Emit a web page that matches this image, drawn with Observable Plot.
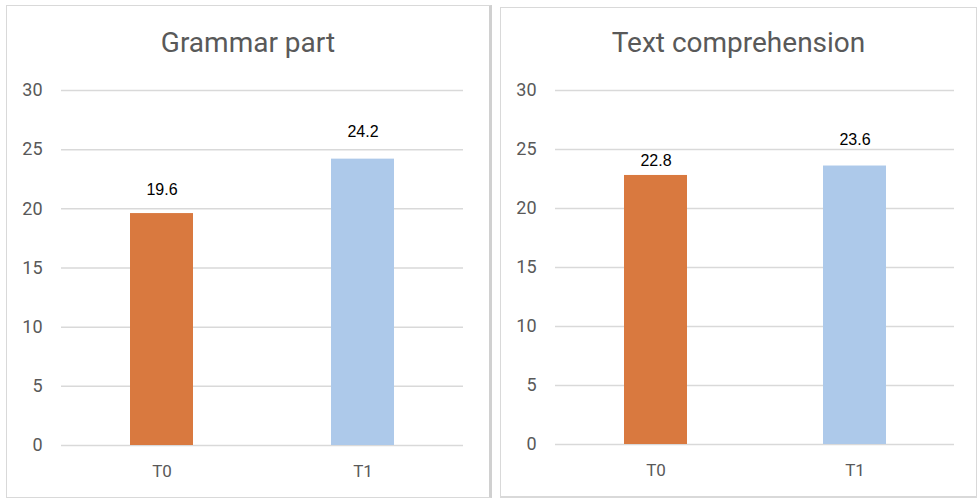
<!DOCTYPE html>
<html>
<head>
<meta charset="utf-8">
<script src="https://cdn.jsdelivr.net/npm/d3@7"></script>
<script src="https://cdn.jsdelivr.net/npm/@observablehq/plot@0.6"></script>
<style>
  html, body { margin: 0; padding: 0; background: #fff; }
  body { width: 977px; height: 498px; position: relative; overflow: hidden; font-family: Roboto, "Liberation Sans", sans-serif; }
  .panel { position: absolute; box-sizing: border-box; border: 1px solid #d9d9d9; background: #fff; }
  #p1 { left: 6px; top: 5px; width: 486px; height: 493px; border-right: 3px solid #d0d0d0; }
  #p2 { left: 500px; top: 7px; width: 477px; height: 491px; border-bottom: 2px solid #d9d9d9; }
  .title { position: absolute; left: 0; right: 0; text-align: center; font-family: Roboto, sans-serif; font-size: 28px; color: #595959; }
  .panel svg { position: absolute; left: 0; }
</style>
</head>
<body>
<div class="panel" id="p1"><div class="title" id="t1"></div></div>
<div class="panel" id="p2"><div class="title" id="t2"></div></div>
<script>
const categories = ["T0", "T1"];
const grammarValues = [19.6, 24.2];
const comprehensionValues = [22.8, 23.6];
const yTicks = [0, 5, 10, 15, 20, 25, 30];
const titles = ["Grammar part", "Text comprehension"];
const barColors = ["#D9793F", "#ADC9EA"];
const labelDy = [[-19, -22], [-9, -21]];

function chart(values, dys, opts) {
  const data = categories.map((c, i) => ({cat: c, value: values[i], dy: dys[i]}));
  return Plot.plot({
    width: opts.width,
    height: opts.height,
    marginLeft: 54,
    marginRight: opts.marginRight,
    marginTop: opts.marginTop,
    marginBottom: opts.marginBottom,
    style: {fontFamily: "Roboto, sans-serif", background: "transparent"},
    x: {domain: categories, paddingInner: 0.685, paddingOuter: 0.3425, label: null},
    y: {domain: [0, 30], ticks: yTicks, label: null},
    color: {domain: categories, range: barColors},
    marks: [
      Plot.ruleY(yTicks, {stroke: "#d9d9d9", strokeWidth: 1.5, strokeOpacity: 1}),
      Plot.barY(data, {x: "cat", y: "value", fill: "cat"}),
      ...data.map(d => Plot.text([d], {x: "cat", y: "value", text: v => v.value.toFixed(1), lineAnchor: "bottom", dy: d.dy, fontSize: 16, fill: "#000", fontFamily: "'Liberation Sans', Arial, sans-serif"})),
      Plot.axisY({ticks: yTicks, tickSize: 0, tickPadding: 19, fontSize: 18, fill: "#595959", label: null}),
      Plot.axisX({tickSize: 0, tickPadding: 19, fontSize: 17, fill: "#595959", label: null})
    ]
  });
}

document.getElementById("t1").textContent = titles[0];
document.getElementById("t2").textContent = titles[1];
const t1 = document.getElementById("t1"); t1.style.top = "20px";
const t2 = document.getElementById("t2"); t2.style.top = "18px";

const c1 = chart(grammarValues, labelDy[0], {width: 482, height: 490, marginRight: 26, marginTop: 84, marginBottom: 51});
c1.style.top = "0px";
document.getElementById("p1").appendChild(c1);

const c2 = chart(comprehensionValues, labelDy[1], {width: 475, height: 488, marginRight: 22, marginTop: 82, marginBottom: 52});
c2.style.top = "0px";
document.getElementById("p2").appendChild(c2);
</script>
</body>
</html>
